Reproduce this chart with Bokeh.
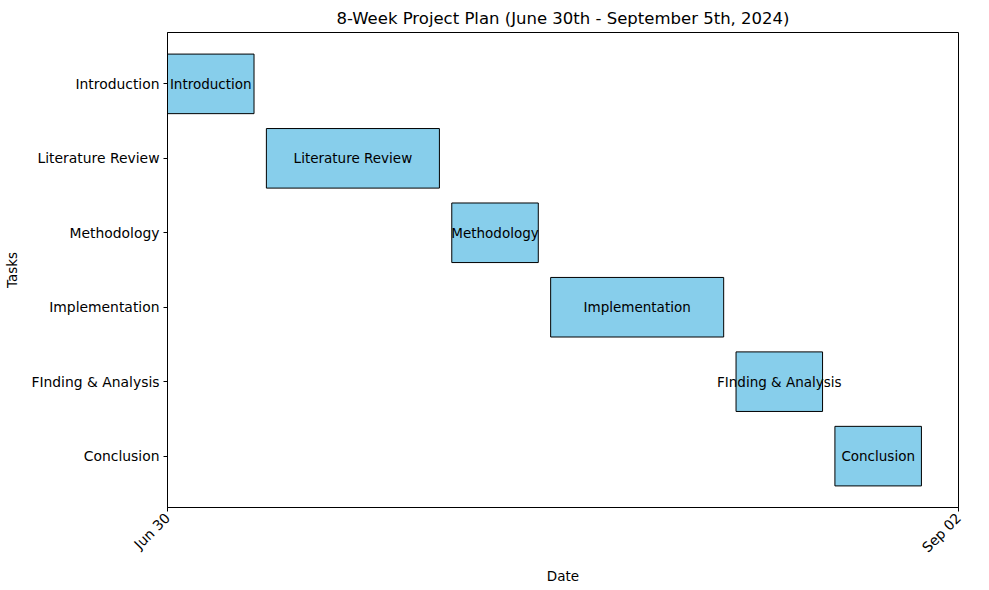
from datetime import datetime
from math import pi
from bokeh.plotting import figure
from bokeh.models import ColumnDataSource, Range1d, FixedTicker, DatetimeTickFormatter
from bokeh.core.properties import value
from bokeh.embed import file_html
from bokeh.resources import INLINE

tasks = ["Introduction", "Literature Review", "Methodology", "Implementation",
         "FInding & Analysis", "Conclusion"]
starts = ["2024-06-30", "2024-07-08", "2024-07-23", "2024-07-31", "2024-08-15", "2024-08-23"]
ends = ["2024-07-07", "2024-07-22", "2024-07-30", "2024-08-14", "2024-08-22", "2024-08-30"]
tick_dates = ["2024-06-30", "2024-09-02"]

def d(s):
    return datetime.strptime(s, "%Y-%m-%d")

n = len(tasks)
ypos = [n - 1 - i for i in range(n)]
s_dt = [d(s) for s in starts]
e_dt = [d(s) for s in ends]
mid = [a + (b - a) / 2 for a, b in zip(s_dt, e_dt)]

src = ColumnDataSource(dict(y=ypos, left=s_dt, right=e_dt, mid=mid, task=tasks))

FONT = "DejaVu Sans"
p = figure(width=989, height=590, x_axis_type="datetime",
           x_range=Range1d(d(tick_dates[0]), d(tick_dates[1])),
           y_range=Range1d(-0.69, n - 1 + 0.69),
           output_backend="svg", toolbar_location=None,
           title="8-Week Project Plan (June 30th - September 5th, 2024)",
           min_border_left=167, min_border_right=31, min_border_top=32, min_border_bottom=83)

p.hbar(y="y", left="left", right="right", height=0.8, source=src,
       fill_color="#87CEEB", line_color="black", line_width=1)
p.text(x="mid", y="y", text="task", source=src, text_align="center",
       text_baseline="middle", text_font=value(FONT), text_font_size="13.5px",
       text_color="black")

p.title.align = "center"
p.title.text_font = FONT
p.title.text_font_size = "16.5px"
p.title.text_font_style = "normal"
p.title.text_color = "black"
p.title.offset = 0

p.xgrid.visible = False
p.ygrid.visible = False
p.outline_line_color = "black"
p.outline_line_alpha = 1

epoch = datetime(1970, 1, 1)
p.xaxis.ticker = FixedTicker(ticks=[(d(t) - epoch).total_seconds() * 1000 for t in tick_dates])
fmt = "%b %d"
p.xaxis.formatter = DatetimeTickFormatter(milliseconds=fmt, seconds=fmt, minsec=fmt,
                                          minutes=fmt, hourmin=fmt, hours=fmt, days=fmt,
                                          months=fmt, years=fmt)
p.xaxis.major_label_orientation = pi / 4
p.yaxis.ticker = FixedTicker(ticks=ypos)
p.yaxis.major_label_overrides = {y: t for y, t in zip(ypos, tasks)}

for ax in (p.xaxis, p.yaxis):
    ax.axis_label_text_font = FONT
    ax.axis_label_text_font_size = "13.5px"
    ax.axis_label_text_font_style = "normal"
    ax.axis_label_text_color = "black"
    ax.major_label_text_font = FONT
    ax.major_label_text_font_size = "13.9px"
    ax.major_tick_in = 0
    ax.major_tick_out = 4
    ax.minor_tick_in = 0
    ax.minor_tick_out = 0
    ax.axis_line_color = "black"
    ax.major_tick_line_color = "black"
    ax.major_label_text_color = "black"
    ax.major_label_standoff = 4
p.xaxis.axis_label = "Date"
p.yaxis.axis_label = "Tasks"
p.xaxis.axis_label_standoff = 4
p.yaxis.axis_label_standoff = 8

open("out.html", "w").write(file_html(p, INLINE))
